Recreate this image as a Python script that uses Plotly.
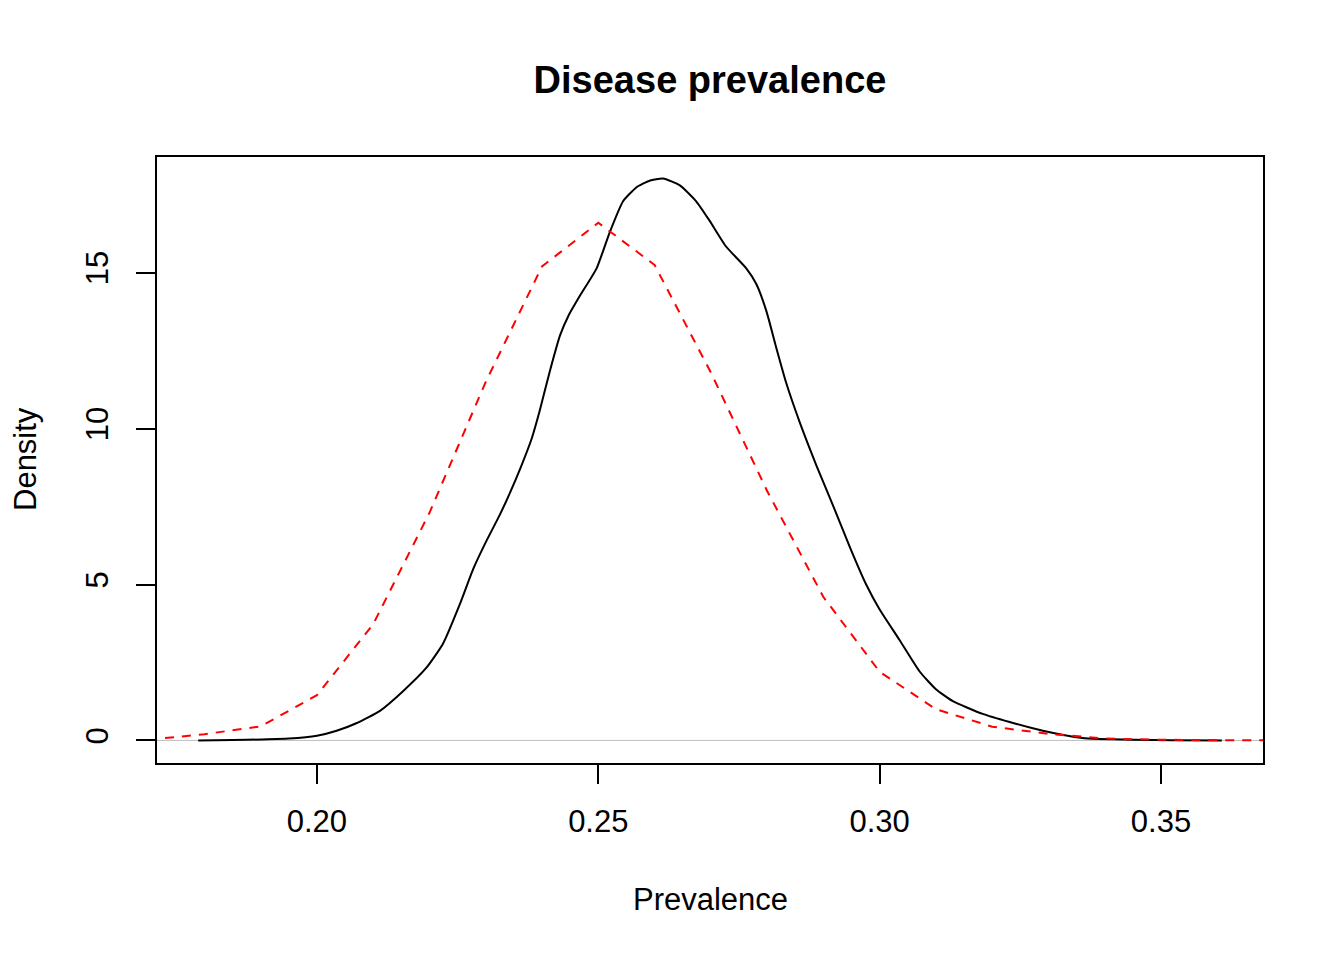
import plotly.graph_objects as go

# Black curve: kernel density estimate
black_x = [0.1789, 0.185, 0.19, 0.195, 0.200, 0.2035, 0.207, 0.2112, 0.2153, 0.2195,
           0.2224, 0.2254, 0.2278, 0.2301, 0.2324, 0.2342, 0.2362, 0.2382, 0.2396, 0.2414,
           0.2432, 0.2447, 0.2467, 0.2497, 0.252, 0.2544, 0.2568, 0.2591, 0.2615, 0.2645,
           0.2674, 0.2698, 0.2727, 0.2763, 0.2781, 0.2799, 0.2816, 0.2834, 0.2858, 0.2888,
           0.2917, 0.2947, 0.2976, 0.300, 0.3035, 0.3071, 0.310, 0.313, 0.3183, 0.3231,
           0.329, 0.336, 0.345, 0.352, 0.3608]
black_y = [0.0, 0.01, 0.03, 0.06, 0.15, 0.31, 0.55, 0.95, 1.58, 2.34,
           3.1, 4.37, 5.51, 6.39, 7.2, 7.9, 8.75, 9.7, 10.58, 11.85,
           12.99, 13.62, 14.25, 15.14, 16.28, 17.29, 17.74, 17.95, 18.02, 17.8,
           17.29, 16.66, 15.84, 15.14, 14.63, 13.75, 12.61, 11.46, 10.2, 8.8,
           7.54, 6.2, 5.0, 4.2, 3.23, 2.21, 1.64, 1.26, 0.85, 0.59,
           0.31, 0.08, 0.02, 0.005, 0.0]

# Red dashed curve
red_x = [0.17, 0.18, 0.19, 0.20, 0.21, 0.22, 0.23, 0.24, 0.25, 0.26, 0.27,
         0.28, 0.29, 0.30, 0.31, 0.32, 0.33, 0.34, 0.35, 0.36, 0.37]
red_y = [0.02, 0.2, 0.45, 1.45, 3.73, 7.3, 11.5, 15.2, 16.6, 15.25, 11.8,
         8.0, 4.6, 2.2, 1.0, 0.44, 0.21, 0.06, 0.02, 0.0, 0.0]

x_ticks = [0.20, 0.25, 0.30, 0.35]
x_tick_labels = ["0.20", "0.25", "0.30", "0.35"]
y_ticks = [0, 5, 10, 15]
y_tick_labels = ["0", "5", "10", "15"]

X_RANGE = [0.17158, 0.36812]
Y_RANGE = [-0.724, 18.71]

FONT = "Liberation Sans, Arial, sans-serif"
OFF = 8  # page body margin

fig = go.Figure()

# gray horizontal line at 0
fig.add_trace(go.Scatter(x=X_RANGE, y=[0, 0], mode="lines",
                         line=dict(color="#BEBEBE", width=1), hoverinfo="skip",
                         showlegend=False))
fig.add_trace(go.Scatter(x=black_x, y=black_y, mode="lines",
                         line=dict(color="black", width=2, shape="spline", smoothing=0.5),
                         showlegend=False))
fig.add_trace(go.Scatter(x=red_x, y=red_y, mode="lines",
                         line=dict(color="red", width=2, dash="9px,8px"),
                         showlegend=False))

fig.update_layout(
    width=1344, height=960,
    paper_bgcolor="white", plot_bgcolor="white",
    margin=dict(l=157 - OFF, r=81 + OFF, t=157 - OFF, b=197 + OFF),
    font=dict(family=FONT, color="black", size=31),
    title=dict(text="<b>Disease prevalence</b>", x=(710 - OFF) / 1344, xanchor="center",
               y=1 - (80 - OFF) / 960, yanchor="middle",
               font=dict(family=FONT, size=38, color="black")),
    showlegend=False,
)

fig.update_xaxes(range=X_RANGE, tickvals=x_ticks, ticktext=x_tick_labels,
                 showgrid=False, zeroline=False, showline=True, mirror=True,
                 linecolor="black", linewidth=2, ticks="outside", ticklen=19,
                 tickwidth=2, tickcolor="black", tickfont=dict(size=31),
                 ticklabelstandoff=11)
fig.update_yaxes(range=Y_RANGE, tickvals=y_ticks, ticktext=y_tick_labels,
                 showgrid=False, zeroline=False, showline=True, mirror=True,
                 linecolor="black", linewidth=2, ticks="outside", ticklen=19,
                 tickwidth=2, tickcolor="black", tickfont=dict(size=31),
                 tickangle=-90, ticklabelstandoff=16)

plot_h = 763 - 157
plot_w = 1263 - 157
fig.add_annotation(text="Prevalence", xref="paper", yref="paper",
                   x=0.5, y=(763 - 900) / plot_h, xanchor="center", yanchor="middle",
                   showarrow=False, font=dict(family=FONT, size=31, color="black"))
fig.add_annotation(text="Density", xref="paper", yref="paper",
                   x=(25 - 157) / plot_w, y=(763 - 459) / plot_h,
                   xanchor="center", yanchor="middle", textangle=-90,
                   showarrow=False, font=dict(family=FONT, size=31, color="black"))

fig.write_html("out.html")
